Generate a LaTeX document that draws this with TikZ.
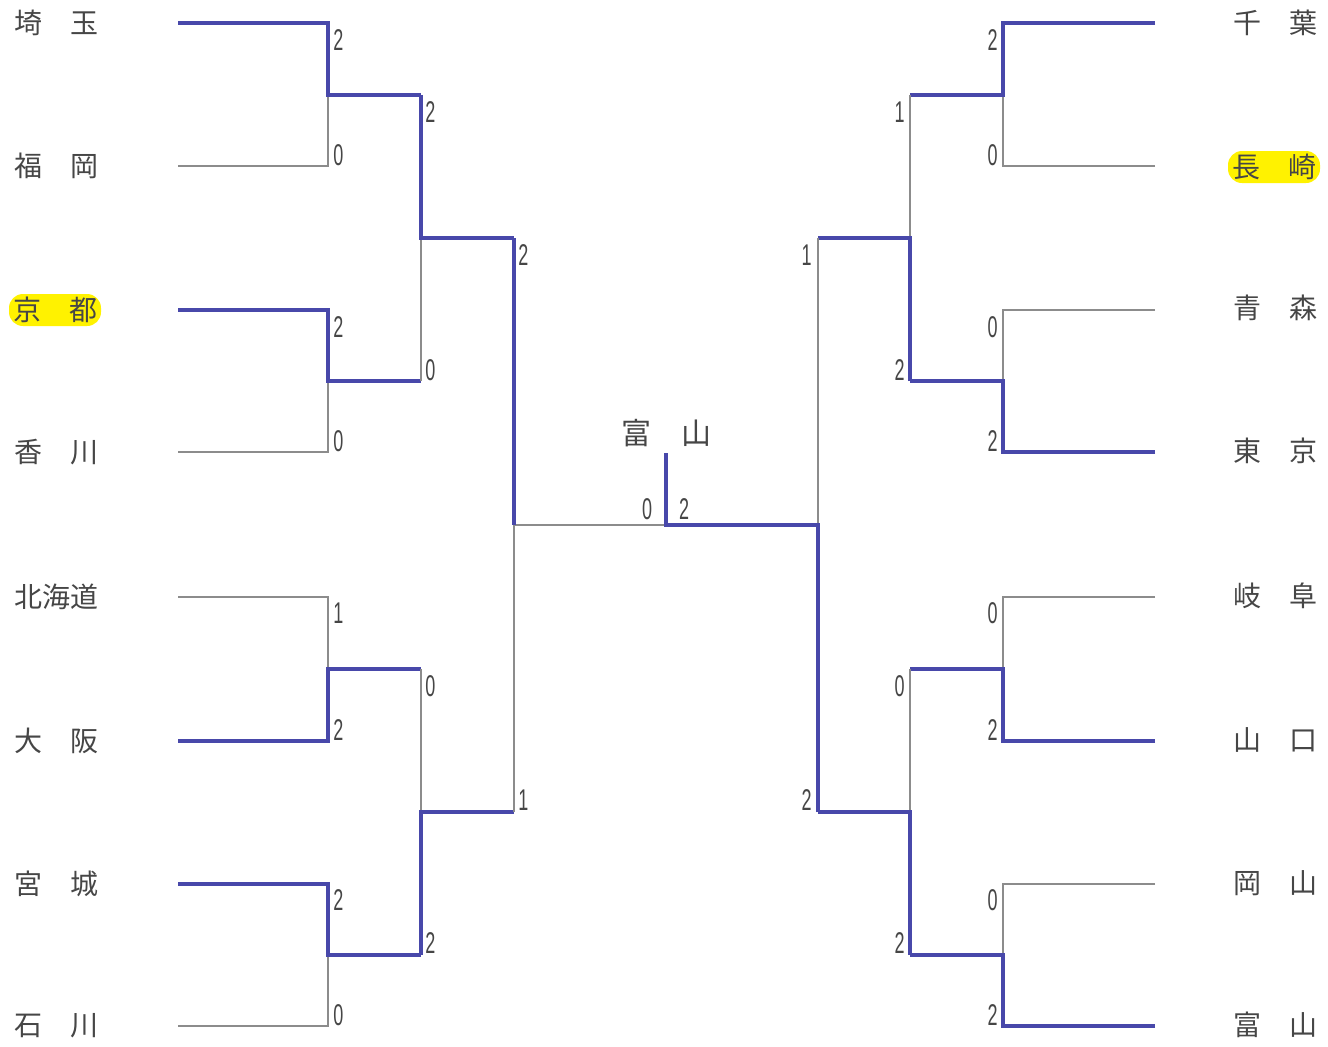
\documentclass[tikz,border=0pt]{standalone}
\usepackage{fontspec}
\setmainfont{Liberation Sans}
\newfontfamily\cjk{Noto Sans CJK JP}
\usetikzlibrary{positioning}

\definecolor{winblue}{RGB}{72,72,170}
\definecolor{losegray}{RGB}{140,140,140}
\definecolor{namegray}{RGB}{70,70,70}
\definecolor{hilite}{RGB}{255,242,0}
\newcommand{\numtxt}[1]{\scalebox{0.6}[1]{#1}}

\tikzset{
  win/.style={draw=winblue,line width=1.6pt},
  lose/.style={draw=losegray,line width=1pt},
  team/.style={font=\cjk\fontsize{14}{14}\selectfont,text=namegray,inner xsep=2pt,inner ysep=0pt,minimum height=16pt},
  hl/.style={fill=hilite,rounded corners=7pt},
  score/.style={font=\fontsize{15}{15}\selectfont,text=namegray,inner sep=0pt},
}

\begin{document}
\begin{tikzpicture}[x=0.5pt,y=-0.5pt]
\useasboundingbox (0,0) rectangle (1328,1046);
% rows of the two halves
\foreach \i/\y in {1/23,2/166,3/310,4/452,5/597,6/741,7/884,8/1026} {
  \coordinate (l\i) at (178,\y); \coordinate (lk\i) at (328,\y);
  \coordinate (r\i) at (1155,\y); \coordinate (rk\i) at (1003,\y);
}
% junctions
\foreach \i/\y in {1/95,2/381,3/669,4/955} {
  \coordinate (la\i) at (328,\y); \coordinate (lb\i) at (421,\y);
  \coordinate (ra\i) at (1003,\y); \coordinate (rb\i) at (910,\y);
}
\foreach \i/\y in {1/238,2/812} {
  \coordinate (lc\i) at (421,\y); \coordinate (ld\i) at (514,\y);
  \coordinate (rc\i) at (910,\y); \coordinate (rd\i) at (818,\y);
}
\coordinate (le) at (514,525); \coordinate (re) at (818,525);
\coordinate (ctr) at (666,525); \coordinate (stem) at (666,453);

% left, round 1
\draw[lose] (l2) -- (lk2) -- (la1); \draw[win] (l1) -- (lk1) -- (la1) -- (lb1);
\draw[lose] (l4) -- (lk4) -- (la2); \draw[win] (l3) -- (lk3) -- (la2) -- (lb2);
\draw[lose] (l5) -- (lk5) -- (la3); \draw[win] (l6) -- (lk6) -- (la3) -- (lb3);
\draw[lose] (l8) -- (lk8) -- (la4); \draw[win] (l7) -- (lk7) -- (la4) -- (lb4);
% left, rounds 2 and 3
\draw[lose] (lb2) -- (lc1); \draw[win] (lb1) -- (lc1) -- (ld1);
\draw[lose] (lb3) -- (lc2); \draw[win] (lb4) -- (lc2) -- (ld2);
\draw[lose] (ld2) -- (le) -- (ctr); \draw[win] (ld1) -- (le);
% right, round 1
\draw[lose] (r2) -- (rk2) -- (ra1); \draw[win] (r1) -- (rk1) -- (ra1) -- (rb1);
\draw[lose] (r3) -- (rk3) -- (ra2); \draw[win] (r4) -- (rk4) -- (ra2) -- (rb2);
\draw[lose] (r5) -- (rk5) -- (ra3); \draw[win] (r6) -- (rk6) -- (ra3) -- (rb3);
\draw[lose] (r7) -- (rk7) -- (ra4); \draw[win] (r8) -- (rk8) -- (ra4) -- (rb4);
% right, rounds 2 and 3, final
\draw[lose] (rb1) -- (rc1); \draw[win] (rb2) -- (rc1) -- (rd1);
\draw[lose] (rb3) -- (rc2); \draw[win] (rb4) -- (rc2) -- (rd2);
\draw[lose] (rd1) -- (re); \draw[win] (rd2) -- (re) -- (ctr) -- (stem);

% teams
\foreach \n/\y/\t in {1/23/埼　玉,2/166/福　岡,4/452/香　川,5/597/北海道,6/741/大　阪,7/884/宮　城,8/1026/石　川}
  \node[team] (lt\n) at (56,\y) {\t};
\node[team,hl] (lt3) at (55,310) {京　都};
\foreach \n/\y/\t in {1/23/千　葉,3/308/青　森,4/451/東　京,5/596/岐　阜,6/740/山　口,7/883/岡　山,8/1025/富　山}
  \node[team] (rt\n) at (1275,\y) {\t};
\node[team,hl] (rt2) at (1274,167) {長　崎};
\node[team,font=\cjk\fontsize{15}{15}\selectfont] (champ) at (666,433) {富　山};

% scores
\foreach \n/\x/\y/\s in {1/333/40/2,2/333/155/0,3/333/327/2,4/333/441/0,5/333/613/1,6/333/730/2,7/333/900/2,8/333/1015/0,
  9/425/112/2,10/425/370/0,11/425/686/0,12/425/943/2,13/518/255/2,14/518/800/1}
  \node[score,anchor=west] (ls\n) at (\x,\y) {\numtxt{\s}};
\foreach \n/\x/\y/\s in {1/998/40/2,2/998/155/0,3/998/327/0,4/998/441/2,5/998/613/0,6/998/730/2,7/998/900/0,8/998/1015/2,
  9/905/112/1,10/905/370/2,11/905/686/0,12/905/943/2,13/812/255/1,14/812/800/2}
  \node[score,anchor=east] (rs\n) at (\x,\y) {\numtxt{\s}};
\node[score] (fl) at (647,509) {\numtxt{0}};
\node[score] (fr) at (684,509) {\numtxt{2}};
\end{tikzpicture}
\end{document}
